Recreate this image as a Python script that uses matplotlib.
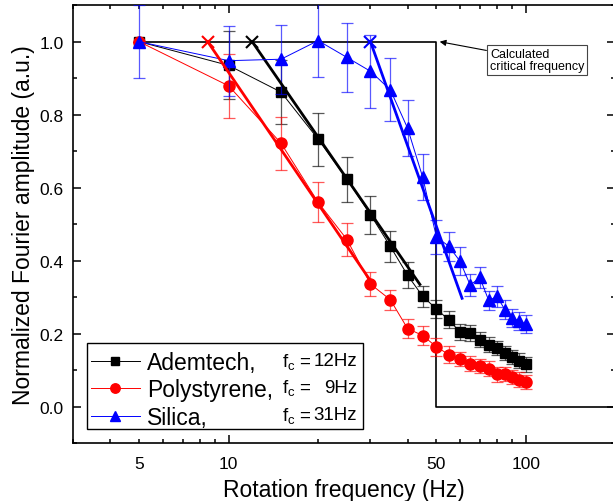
import matplotlib
matplotlib.use("Agg")
import matplotlib.pyplot as plt
from matplotlib.lines import Line2D
from matplotlib.patches import Rectangle
from matplotlib.ticker import FixedLocator, FuncFormatter

plt.rcParams['font.family'] = ['Liberation Sans', 'DejaVu Sans']
plt.rcParams['mathtext.default'] = 'regular'

# ---- data ----
freq = [5, 10, 15, 20, 25, 30, 35, 40, 45, 50, 55, 60, 65, 70, 75, 80, 85, 90, 95, 100]
ademtech = [1.0, 0.935, 0.862, 0.733, 0.623, 0.526, 0.439, 0.360, 0.302, 0.268,
            0.238, 0.205, 0.202, 0.184, 0.170, 0.161, 0.147, 0.136, 0.126, 0.116]
ademtech_err = [0, 0.093, 0.087, 0.073, 0.062, 0.052, 0.043, 0.036, 0.030, 0.025,
                0.023, 0.022, 0.022, 0.020, 0.020, 0.020, 0.020, 0.020, 0.020, 0.020]
polystyrene = [1.0, 0.879, 0.722, 0.560, 0.458, 0.336, 0.293, 0.214, 0.195, 0.164,
               0.143, 0.131, 0.118, 0.111, 0.104, 0.089, 0.090, 0.081, 0.074, 0.068]
polystyrene_err = [0, 0.088, 0.073, 0.055, 0.045, 0.033, 0.028, 0.025, 0.025, 0.025,
                   0.022, 0.020, 0.020, 0.020, 0.020, 0.020, 0.020, 0.020, 0.020, 0.020]
silica = [1.0, 0.948, 0.952, 1.003, 0.957, 0.919, 0.868, 0.763, 0.628, 0.465,
          0.440, 0.399, 0.333, 0.354, 0.291, 0.302, 0.266, 0.243, 0.235, 0.226]
silica_err = [0.1, 0.096, 0.095, 0.1, 0.094, 0.1, 0.086, 0.077, 0.063, 0.047,
              0.040, 0.039, 0.031, 0.030, 0.027, 0.028, 0.027, 0.025, 0.025, 0.025]

fit_ad_x = [12, 44]
fit_ad_y = [1.0, 0.335]
fit_ps_x = [8.5, 30]
fit_ps_y = [1.0, 0.345]
fit_si_x = [30, 61]
fit_si_y = [1.0, 0.297]

step_x = [5, 50, 50, 200]
step_y = [1, 1, 0, 0]

names = ["Ademtech,", "Polystyrene,", "Silica,"]
fc_labels = ["12Hz", "9Hz", "31Hz"]

# ---- figure ----
W, H = 613, 502
fig = plt.figure(figsize=(W / 100, H / 100), dpi=100)
ax = fig.add_axes([73.3 / W, (H - 444.2) / H, (615.3 - 73.3) / W, (444.2 - 6.2) / H])
ax.set_xscale('log')
ax.set_xlim(3, 200)
ax.set_ylim(-0.1, 1.1)

# step line (calculated critical frequency)
ax.plot(step_x, step_y, color='black', lw=1.2, zorder=2)

series = [
    (ademtech, ademtech_err, 'black', 's', 7, fit_ad_x, fit_ad_y),
    (polystyrene, polystyrene_err, 'red', 'o', 8, fit_ps_x, fit_ps_y),
    (silica, silica_err, 'blue', '^', 8.5, fit_si_x, fit_si_y),
]
handles = []
for i, (vals, err, col, mk, ms, fx, fy) in enumerate(series):
    ax.errorbar(freq, vals, yerr=err, fmt='none', ecolor=col, alpha=0.65,
                elinewidth=0.9, capsize=4, capthick=0.9, zorder=3 + i)
    ax.plot(freq, vals, color=col, lw=0.7, marker=mk, ms=ms, mec=col, mfc=col,
            zorder=4 + i)
    ax.plot(fx, fy, color=col, lw=2.0, zorder=6 + i)
    ax.plot(fx[:1], fy[:1], color=col, marker='x', ms=9, mew=1.5, ls='none', zorder=6 + i)
    handles.append(Line2D([], [], color=col, lw=0.7, marker=mk, ms=ms * 0.85,
                          mec=col, mfc=col))

# ticks
ax.xaxis.set_major_locator(FixedLocator([10, 100]))
ax.xaxis.set_minor_locator(FixedLocator([3, 4, 5, 6, 7, 8, 9, 20, 30, 40, 50, 60,
                                         70, 80, 90, 200]))
ax.xaxis.set_major_formatter(FuncFormatter(lambda v, p: f"{v:g}"))
ax.xaxis.set_minor_formatter(FuncFormatter(lambda v, p: f"{v:g}" if v in (5, 50) else ""))
ax.yaxis.set_major_locator(FixedLocator([0.0, 0.2, 0.4, 0.6, 0.8, 1.0]))
ax.yaxis.set_minor_locator(FixedLocator([-0.1, 0.1, 0.3, 0.5, 0.7, 0.9, 1.1]))
ax.yaxis.set_major_formatter(FuncFormatter(lambda v, p: f"{v:.1f}"))
ax.tick_params(which='both', direction='in', top=True, right=True, labelsize=12.5,
               width=1.1)
ax.tick_params(axis='y', which='both', pad=7)
ax.tick_params(axis='x', which='both', pad=9)
ax.tick_params(which='major', length=5.5)
ax.tick_params(which='minor', length=3)
for s in ax.spines.values():
    s.set_linewidth(1.2)

ax.set_xlabel('Rotation frequency (Hz)', fontsize=16.5, labelpad=5)
ax.set_ylabel('Normalized Fourier amplitude (a.u.)', fontsize=16.5, labelpad=3)

# annotation
ax.annotate('Calculated\ncritical frequency', xy=(51.3, 1.0), xytext=(75.7, 0.95),
            fontsize=9, ha='left', va='center', linespacing=0.95,
            bbox=dict(boxstyle='square,pad=0.25', fc='white', ec='#444444', lw=0.8),
            arrowprops=dict(arrowstyle='-|>', color='black', lw=0.8,
                            mutation_scale=9, shrinkA=0, shrinkB=0),
            zorder=10)

# legend
frame = Rectangle((87 / W, 1 - 430 / H), (363 - 87) / W, (430 - 344) / H,
                  transform=fig.transFigure, fill=True, fc='white', ec='black',
                  lw=1.0, zorder=9, clip_on=False)
ax.add_patch(frame)
leg = ax.legend(handles, names, loc='upper left',
                bbox_to_anchor=(86 / W, 1 - 347 / H), bbox_transform=fig.transFigure,
                fontsize=16.5, frameon=False, handlelength=2.15, handletextpad=0.3,
                labelspacing=0.2, borderpad=0.2, borderaxespad=0)
leg.set_zorder(11)
rows_y = [361.7, 388.3, 416.0]
for ry, lab in zip(rows_y, fc_labels):
    ax.text(281.7 / W, 1 - ry / H, 'f$_c$ =', fontsize=13.5, ha='left', va='center',
            transform=fig.transFigure, zorder=12)
    ax.text(357 / W, 1 - ry / H, lab, fontsize=13.5, ha='right', va='center',
            transform=fig.transFigure, zorder=12)

fig.savefig('out.png', dpi=100)
